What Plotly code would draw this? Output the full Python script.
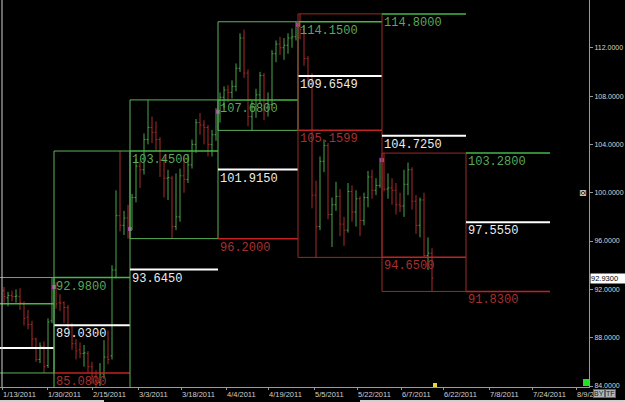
import plotly.graph_objects as go

# ---------------- data ----------------
dates = [
    "2011-01-13", "2011-01-14", "2011-01-17", "2011-01-18", "2011-01-19", "2011-01-20", "2011-01-21",
    "2011-01-24", "2011-01-25", "2011-01-26", "2011-01-27", "2011-01-28", "2011-01-31",
    "2011-02-01", "2011-02-02", "2011-02-03", "2011-02-04", "2011-02-07", "2011-02-08", "2011-02-09",
    "2011-02-10", "2011-02-11", "2011-02-14", "2011-02-15", "2011-02-16", "2011-02-17", "2011-02-18",
    "2011-02-22", "2011-02-23", "2011-02-24", "2011-02-25", "2011-02-28",
    "2011-03-01", "2011-03-02", "2011-03-03", "2011-03-04", "2011-03-07", "2011-03-08", "2011-03-09",
    "2011-03-10", "2011-03-11", "2011-03-14", "2011-03-15", "2011-03-16", "2011-03-17", "2011-03-18",
    "2011-03-21", "2011-03-22", "2011-03-23", "2011-03-24", "2011-03-25", "2011-03-28", "2011-03-29",
    "2011-03-31",
    "2011-04-01", "2011-04-04", "2011-04-05", "2011-04-06", "2011-04-07", "2011-04-08", "2011-04-11",
    "2011-04-12", "2011-04-13", "2011-04-14", "2011-04-15", "2011-04-18", "2011-04-19", "2011-04-20",
    "2011-04-21", "2011-04-25", "2011-04-26", "2011-04-27", "2011-04-28", "2011-04-29",
    "2011-05-02", "2011-05-03", "2011-05-04", "2011-05-05", "2011-05-06", "2011-05-09", "2011-05-10",
    "2011-05-11", "2011-05-12", "2011-05-13", "2011-05-16", "2011-05-17", "2011-05-18", "2011-05-19",
    "2011-05-20", "2011-05-23", "2011-05-24", "2011-05-25", "2011-05-26", "2011-05-27", "2011-05-31",
    "2011-06-01", "2011-06-02", "2011-06-03", "2011-06-06", "2011-06-07", "2011-06-08", "2011-06-09",
    "2011-06-10", "2011-06-13", "2011-06-14", "2011-06-15", "2011-06-16", "2011-06-17",
]

opens = [
    91.9, 91.3, 91.5, 91.4, 91.4, 90.8, 89.7, 89.1, 87.9, 86.2, 87.3, 85.7, 89.4,
    92.2, 90.9, 90.9, 90.5, 89.0, 87.5, 87.0, 86.7, 86.7, 85.6, 84.8, 84.3, 85.0, 86.4, 86.5, 93.6,
    98.1, 97.3, 97.9,
    97.0, 99.6, 102.2, 101.9, 104.4, 105.4, 105.0, 104.4, 102.7, 101.2, 101.2, 97.2, 98.0, 101.4,
    101.1, 102.3, 104.0, 105.8, 105.6, 105.4, 104.0, 104.8,
    106.7, 107.9, 108.5, 108.3, 108.8, 110.3, 112.8, 109.9, 106.3, 107.1, 108.1, 109.7, 107.1, 107.3,
    111.5, 112.3, 112.0, 112.2, 112.8, 112.9,
    113.9, 113.5, 111.1, 109.2, 99.8, 97.2, 102.6, 103.9, 98.2, 99.0, 99.7, 97.4, 96.9, 100.1, 98.4,
    99.5, 97.7, 99.6, 101.3, 100.2, 100.6,
    102.7, 100.3, 100.4, 100.2, 99.0, 98.9, 100.7, 101.9, 99.3, 97.3, 99.4, 94.8, 95.0,
]
highs = [
    92.2, 91.8, 91.9, 92.0, 92.1, 91.0, 90.3, 89.4, 88.0, 87.6, 87.7, 89.6, 92.98,
    92.6, 91.6, 91.0, 90.7, 89.2, 87.9, 87.6, 87.4, 86.9, 86.0, 85.3, 85.9, 87.8, 88.6, 94.0, 100.2,
    103.45, 98.5, 99.0,
    99.9, 102.8, 102.6, 104.9, 107.68, 106.3, 105.9, 104.6, 103.0, 101.9, 101.4, 101.6, 102.0, 103.0,
    103.2, 104.4, 106.1, 106.6, 106.0, 105.6, 105.2, 107.0,
    108.3, 108.8, 108.9, 109.3, 110.7, 113.2, 113.5, 110.2, 107.6, 108.6, 110.0, 109.9, 108.3, 111.8,
    112.6, 112.9, 112.8, 113.2, 113.6, 114.15,
    114.8, 113.9, 111.3, 109.9, 101.0, 103.0, 104.4, 104.1, 99.6, 100.9, 100.3, 98.0, 100.8, 100.6,
    100.2, 99.7, 100.0, 101.8, 101.9, 101.2, 102.9,
    103.28, 101.6, 101.2, 100.8, 100.0, 101.9, 102.5, 102.1, 99.8, 99.6, 100.0, 96.3, 95.4,
]
lows = [
    90.9, 90.6, 91.0, 90.9, 90.3, 89.0, 88.7, 87.2, 86.0, 85.9, 85.08, 85.5, 89.2,
    90.4, 90.2, 89.2, 88.8, 87.0, 86.2, 86.3, 85.6, 85.1, 84.2, 83.84, 84.0, 84.6, 85.8, 86.2, 92.9,
    96.8, 96.5, 96.2,
    96.9, 99.2, 100.4, 101.5, 104.0, 104.1, 103.5, 101.3, 99.6, 99.4, 96.2, 96.9, 97.6, 100.0,
    100.8, 102.0, 103.3, 104.8, 104.0, 103.0, 103.0, 104.3,
    105.8, 107.0, 107.5, 107.8, 108.4, 110.0, 109.5, 105.5, 105.16, 106.2, 107.4, 106.0, 106.3, 107.2,
    110.8, 111.4, 111.0, 111.5, 112.0, 112.6,
    112.7, 110.5, 108.7, 98.7, 94.65, 96.9, 101.7, 97.8, 95.5, 98.5, 96.4, 95.6, 96.7, 97.6,
    97.2, 96.4, 97.3, 98.8, 99.5, 99.8, 100.4,
    100.1, 99.5, 99.0, 98.2, 98.4, 98.0, 99.8, 98.6, 96.6, 96.3, 94.7, 93.6, 91.83,
]
closes = [
    91.4, 91.5, 91.4, 91.45, 90.9, 89.6, 89.1, 87.9, 86.2, 87.3, 85.6, 89.3, 92.2,
    90.8, 90.86, 90.5, 89.0, 87.5, 86.9, 86.7, 86.75, 85.6, 84.8, 84.3, 85.0, 86.4, 86.2, 93.6, 98.1,
    97.3, 97.9, 97.0,
    99.6, 102.2, 101.9, 104.4, 105.4, 105.0, 104.4, 102.7, 101.2, 101.25, 97.2, 98.0, 101.4, 101.1,
    102.3, 104.0, 105.8, 105.6, 105.4, 104.0, 104.8, 106.7,
    107.9, 108.5, 108.3, 108.8, 110.3, 112.8, 109.9, 106.3, 107.1, 108.1, 109.7, 107.1, 107.3, 111.5,
    112.3, 112.0, 112.2, 112.8, 112.9, 113.9,
    113.5, 111.1, 109.2, 99.8, 97.2, 102.6, 103.9, 98.2, 99.0, 99.7, 97.4, 96.9, 100.1, 98.4,
    99.5, 97.7, 99.6, 101.3, 100.2, 100.6, 102.7,
    100.3, 100.4, 100.2, 99.0, 98.9, 100.7, 101.9, 99.3, 97.3, 99.4, 94.8, 95.0, 92.93,
]

# monthly periods (Dec 2010 .. Jul 2011), number of bar slots in each month
month_names = ["Dec", "Jan", "Feb", "Mar", "Apr", "May", "Jun", "Jul"]
month_codes = ["12", "01", "02", "03", "04", "05", "06", "07"]
month_slots = [22, 21, 19, 22, 20, 21, 21, 21]
jan_slots_before_first_bar = 8

# monthly high / mid / low levels (Dec .. Jun), as printed on the chart
level_high = [90.80, 92.98, 103.45, 107.68, 114.15, 114.80, 103.28]
level_mid = [87.15, 89.03, 93.645, 101.915, 109.6549, 104.725, 97.555]
level_low = [83.50, 85.08, 83.84, 96.20, 105.1599, 94.65, 91.83]

tick_pos = [-0.5, 10.75, 22, 33.5, 44.25, 55.5, 66, 77.5, 88.25, 99.25, 109.75, 121.25, 132, 143]
tick_text = ["1/13/2011", "1/30/2011", "2/15/2011", "3/3/2011", "3/18/2011", "4/4/2011",
             "4/19/2011", "5/5/2011", "5/22/2011", "6/7/2011", "6/22/2011", "7/8/2011",
             "7/24/2011", "8/9/2"]
y_ticks = [84, 88, 92, 96, 100, 104, 108, 112]
last_price = 92.93

# ---------------- styling ----------------
BAR_UP = "#4aa64a"
BAR_DN = "#a82c2a"
BOX_UP = "#5cb25c"
BOX_DN = "#9a2a26"
LVL_HI = "#46b846"
LVL_MID = "#ffffff"
LVL_LO = "#c42222"
TXT_HI = "#5aa85a"
TXT_MID = "#ececec"
TXT_LO = "#a83030"
AXIS = "#9a9a9a"
LABEL_FONT = "Liberation Mono"

W, H = 625, 402
M_R, M_B = 36, 15
PW, PH = W - M_R, H - M_B          # plot area in pixels
X_MIN, X_MAX = -1.0, 146.25
Y_MIN, Y_MAX = 83.92, 115.95


def px(xp):
    return xp / PW


def py(yp):
    return 1 - yp / PH


idx = list(range(len(dates)))

# month column boundaries in bar-slot units
starts = []
s = -jan_slots_before_first_bar - month_slots[0] - 0.5
for n in month_slots:
    starts.append(s)
    s += n
starts.append(s)

fig = go.Figure()
fig.add_trace(go.Ohlc(
    x=idx, open=opens, high=highs, low=lows, close=closes,
    increasing=dict(line=dict(color=BAR_UP, width=1)),
    decreasing=dict(line=dict(color=BAR_DN, width=1)),
    tickwidth=0.35, hoverinfo="skip", showlegend=False,
))

shapes = []
annotations = []
open_x, open_y = [], []

for k in range(len(level_high)):
    code = month_codes[k]
    bars = [i for i, d in enumerate(dates) if d[5:7] == code]
    if bars:
        up = closes[bars[-1]] >= opens[bars[0]]
        shapes.append(dict(type="rect", xref="x", yref="y",
                           x0=starts[k], x1=starts[k + 1], y0=level_low[k], y1=level_high[k],
                           line=dict(color=BOX_UP if up else BOX_DN, width=1), layer="above"))
        if starts[k] >= X_MIN:
            open_x.append(starts[k])
            open_y.append(opens[bars[0]])
    # levels of month k projected over month k+1
    x0, x1 = starts[k + 1], starts[k + 2]
    for val, lc, tc, w in ((level_high[k], LVL_HI, TXT_HI, 1.5),
                           (level_mid[k], LVL_MID, TXT_MID, 2),
                           (level_low[k], LVL_LO, TXT_LO, 1.5)):
        if val < Y_MIN:
            continue
        shapes.append(dict(type="line", xref="x", yref="y", x0=x0, x1=x1, y0=val, y1=val,
                           line=dict(color=lc, width=w), layer="above"))
        if x0 >= X_MIN:
            annotations.append(dict(x=x0, y=val, xref="x", yref="y", text=f"{val:.4f}",
                                    showarrow=False, xanchor="left", yanchor="top",
                                    font=dict(family=LABEL_FONT, size=12, color=tc)))

fig.add_trace(go.Scatter(x=open_x, y=open_y, mode="markers",
                         marker=dict(symbol="square", size=4, color="#b03cb0"),
                         hoverinfo="skip", showlegend=False))

# chart frame decorations
shapes.append(dict(type="line", xref="paper", yref="paper", x0=px(2), x1=px(2), y0=0, y1=1,
                   line=dict(color="#cfcfcf", width=1)))
shapes.append(dict(type="rect", xref="paper", yref="paper", x0=px(583), x1=1.0,
                   y0=py(386), y1=py(379), fillcolor="#22e022", line=dict(width=0)))
shapes.append(dict(type="rect", xref="paper", yref="paper", x0=px(433), x1=px(437),
                   y0=0.0, y1=py(383), fillcolor="#e6d83c", line=dict(width=0)))
shapes.append(dict(type="rect", xref="paper", yref="paper", x0=0, x1=px(104),
                   y0=py(402), y1=py(400), fillcolor="#d0d0d0", line=dict(width=0)))
shapes.append(dict(type="rect", xref="paper", yref="paper", x0=px(360), x1=px(625),
                   y0=py(402), y1=py(400), fillcolor="#d0d0d0", line=dict(width=0)))

annotations.append(dict(x=1.0, y=last_price, xref="paper", yref="y", text=f"{last_price:.4f}",
                        showarrow=False, xanchor="left", yanchor="middle", xshift=1,
                        bgcolor="#ffffff", width=34, align="left", borderpad=0,
                        font=dict(family="Arial", size=7.5, color="#000000")))
annotations.append(dict(x=px(583), y=100, xref="paper", yref="y", text="⊠",
                        showarrow=False, xanchor="center", yanchor="middle",
                        font=dict(family="DejaVu Sans", size=9, color="#e0e0e0")))
for lab, xp in (("BY", 593), ("TF", 605)):
    annotations.append(dict(x=px(xp), y=py(393), xref="paper", yref="paper", text=lab,
                            showarrow=False, xanchor="left", yanchor="middle", borderpad=0,
                            bgcolor="#b4b4b4", bordercolor="#606060", borderwidth=1,
                            font=dict(family="Arial", size=7, color="#202020")))

fig.update_layout(
    width=W, height=H,
    margin=dict(l=0, r=M_R, t=0, b=M_B, autoexpand=False),
    paper_bgcolor="#000000", plot_bgcolor="#000000",
    showlegend=False, hovermode=False,
    shapes=shapes, annotations=annotations,
    xaxis=dict(range=[X_MIN, X_MAX], tickmode="array", tickvals=tick_pos, ticktext=tick_text,
               ticks="outside", ticklen=2, tickcolor=AXIS, ticklabelposition="outside right",
               tickangle=0,
               tickfont=dict(family="Arial", size=7.5, color="#cfcfcf"),
               showline=True, linecolor=AXIS, linewidth=1, showgrid=False, zeroline=False,
               rangeslider=dict(visible=False), fixedrange=True),
    yaxis=dict(range=[Y_MIN, Y_MAX], side="right", tickmode="array", tickvals=y_ticks,
               ticktext=[f"{v:.4f}" for v in y_ticks],
               ticks="outside", ticklen=3, tickcolor=AXIS,
               tickfont=dict(family="Arial", size=7, color="#d6d6d6"),
               showline=True, linecolor=AXIS, linewidth=1, showgrid=False, zeroline=False,
               fixedrange=True),
)

fig.write_html("out.html")
